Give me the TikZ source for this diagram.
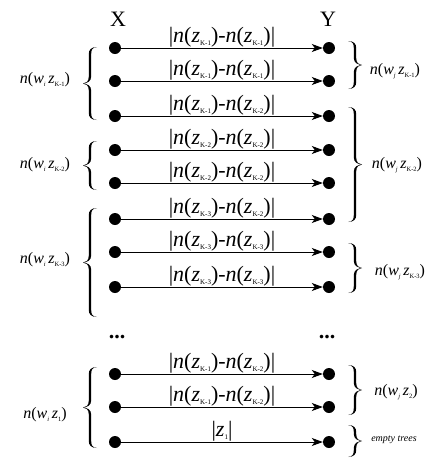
\documentclass[tikz,border=0pt]{standalone}
\usepackage{fontspec}
\setmainfont{Liberation Serif}
\usetikzlibrary{arrows.meta}
\newcommand{\subk}[1]{\raisebox{-0.35ex}{\fontsize{7}{7}\selectfont K-#1}}
\newcommand{\subs}[1]{\raisebox{-0.35ex}{\fontsize{7}{7}\selectfont #1}}
\newcommand{\nz}[1]{\textit{n}(\textit{z}\subk{#1})}
\newcommand{\dif}[2]{|\nz{#1}-\nz{#2}|}
\newcommand{\ssub}[1]{\raisebox{-0.35ex}{\fontsize{6.5}{6.5}\selectfont #1}}
\newcommand{\nw}[2]{\textit{n}(\textit{w}\ssub{\itshape #1}\,\textit{z}\ssub{#2})}
% filled curly brace: centre x, centre y, half height, side (-1 tip left... see xscale)
\newcommand{\curly}[4]{%
  \begin{scope}[shift={(#1,#2)},xscale=#4]
  \fill (7,{-#3}) .. controls (1,{-#3}) and (-1.2,{-#3+3}) .. (-1.2,{-#3+7})
     -- (-1.2,-7) .. controls (-1.2,-2) and (-4,0) .. (-7,0)
     .. controls (-4,0) and (-1.2,2) .. (-1.2,7)
     -- (-1.2,{#3-7}) .. controls (-1.2,{#3-3}) and (1,{#3}) .. (7,{#3})
     .. controls (2,{#3-0.5}) and (1.2,{#3-3}) .. (1.2,{#3-7})
     -- (1.2,7) .. controls (1.2,2) and (-3,0.3) .. (-7,0)
     .. controls (-3,-0.3) and (1.2,-2) .. (1.2,-7)
     -- (1.2,{-#3+7}) .. controls (1.2,{-#3+3}) and (2,{-#3+0.5}) .. (7,{-#3}) -- cycle;
  \end{scope}}
\begin{document}
\begin{tikzpicture}[x=1pt,y=-1pt,
  dot/.style={circle,fill=black,inner sep=0pt,minimum size=12pt},
  conn/.style={-{Stealth[length=11pt,width=8pt,inset=3pt]},line width=0.8pt},
  lab/.style={anchor=south,inner sep=0.5pt,font=\fontsize{22}{24}\selectfont},
  side/.style={font=\fontsize{16}{18}\selectfont,inner sep=0pt},
  head/.style={anchor=base,font=\fontsize{22}{24}\selectfont,inner sep=0pt}]
\path[use as bounding box] (0,0) rectangle (441,459);
% heads
\node[head] (X) at (118,26) {X};
\node[head] (Y) at (328,26) {Y};
% dots
\foreach \i/\y in {1/48,2/81,3/116,4/150,5/183,6/219,7/252,8/287,9/374,10/407,11/442}{
  \node[dot] (L\i) at (115,\y) {};
  \node[dot] (R\i) at (329,\y) {};
}
\draw[conn] (L1) -- node[lab] (a1) {\dif{1}{1}} (R1);
\draw[conn] (L2) -- node[lab] (a2) {\dif{1}{1}} (R2);
\draw[conn] (L3) -- node[lab] (a3) {\dif{1}{2}} (R3);
\draw[conn] (L4) -- node[lab] (a4) {\dif{2}{2}} (R4);
\draw[conn] (L5) -- node[lab] (a5) {\dif{2}{2}} (R5);
\draw[conn] (L6) -- node[lab] (a6) {\dif{3}{2}} (R6);
\draw[conn] (L7) -- node[lab] (a7) {\dif{3}{3}} (R7);
\draw[conn] (L8) -- node[lab] (a8) {\dif{3}{3}} (R8);
\draw[conn] (L9) -- node[lab] (a9) {\dif{1}{2}} (R9);
\draw[conn] (L10) -- node[lab] (a10) {\dif{1}{2}} (R10);
\draw[conn] (L11) -- node[lab] (a11) {|\textit{z}\subs{1}|} (R11);
% ellipses
\node[head,font=\fontsize{22}{24}\selectfont\bfseries] (e1) at (117,338) {...};
\node[head,font=\fontsize{22}{24}\selectfont\bfseries] (e2) at (327,338) {...};
% left braces
\curly{90}{83.5}{36.5}{1}
\curly{90}{165.5}{24.5}{1}
\curly{90}{262.5}{54.5}{1}
\curly{90}{407.5}{40.5}{1}
% right braces
\curly{355}{65}{24}{-1}
\curly{355}{164.5}{57.5}{-1}
\curly{355}{268}{25}{-1}
\curly{355}{390}{25}{-1}
\curly{355}{441}{16}{-1}
% left labels
\node[side] (l1) at (45,80) {\nw{i}{K-1}};
\node[side] (l2) at (45,165) {\nw{i}{K-2}};
\node[side] (l3) at (45,260) {\nw{i}{K-3}};
\node[side] (l4) at (45,415) {\nw{i}{1}};
% right labels
\node[side] (r1) at (395,71) {\nw{j}{K-1}};
\node[side] (r2) at (397,165) {\nw{j}{K-2}};
\node[side] (r3) at (400,272) {\nw{j}{K-3}};
\node[side] (r4) at (396,392) {\nw{j}{2}};
\node[inner sep=0pt,font=\fontsize{10}{12}\selectfont\itshape] (r5) at (394,440) {empty trees};
\end{tikzpicture}
\end{document}
